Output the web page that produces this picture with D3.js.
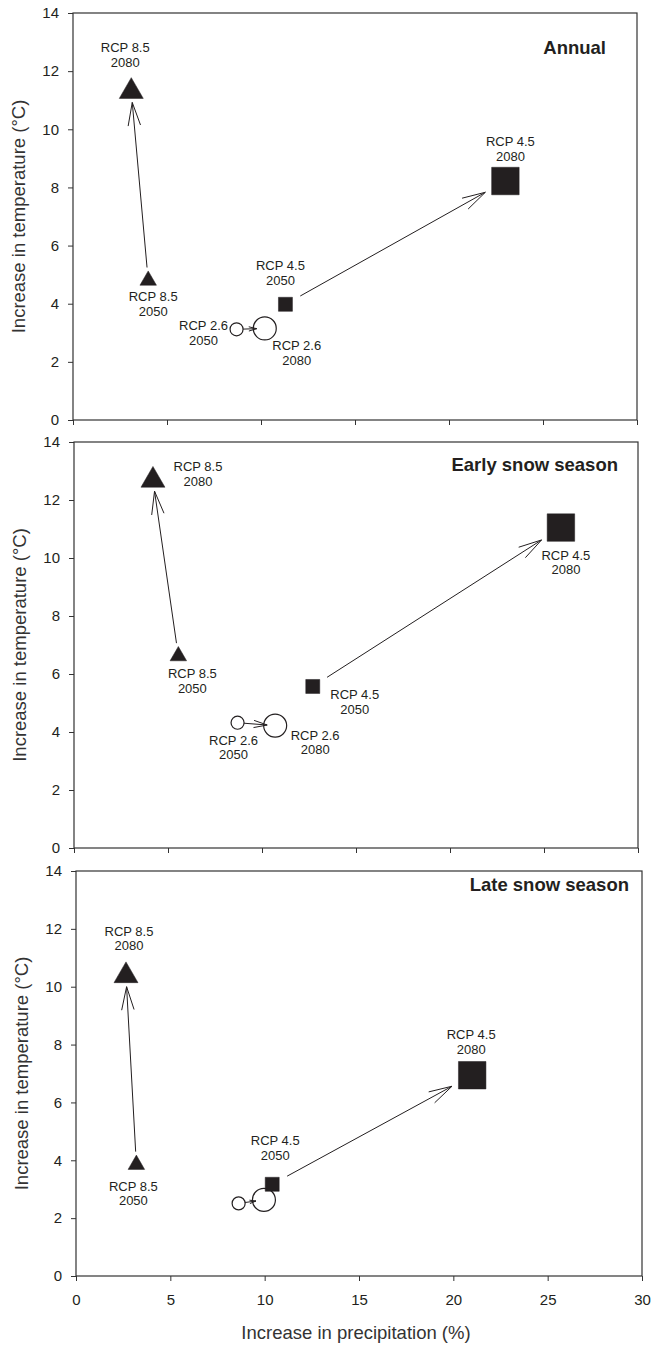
<!DOCTYPE html>
<html>
<head>
<meta charset="utf-8">
<script src="https://cdn.jsdelivr.net/npm/d3@7"></script>
<style>
body { margin: 0; background: #fff; }
svg { display: block; font-family: "Liberation Sans", Arial, sans-serif; }
</style>
</head>
<body>
<svg id="chart"></svg>
<script>
const panelTitles = ['Annual', 'Early snow season', 'Late snow season'];
const scenarios = ['RCP 2.6', 'RCP 4.5', 'RCP 8.5'];
const years = ['2050', '2080'];
// order: 2.6/2050, 2.6/2080, 4.5/2050, 4.5/2080, 8.5/2050, 8.5/2080
const annualPrecip = [8.7, 10.2, 11.3, 23.0, 4.0, 3.1];
const annualTemp = [3.12, 3.15, 3.98, 8.22, 4.8, 11.3];
const earlyPrecip = [8.7, 10.7, 12.7, 25.9, 5.55, 4.2];
const earlyTemp = [4.32, 4.22, 5.57, 11.05, 6.62, 12.68];
const latePrecip = [8.62, 9.96, 10.4, 21.0, 3.2, 2.65];
const lateTemp = [2.51, 2.63, 3.17, 6.94, 3.85, 10.38];
const xTicks = [0, 5, 10, 15, 20, 25, 30];
const yTicks = [0, 2, 4, 6, 8, 10, 12, 14];

const precip = [annualPrecip, earlyPrecip, latePrecip];
const temp = [annualTemp, earlyTemp, lateTemp];

// layout of the three stacked panels
const W = 651, H = 1347;
const frames = [
    { left: 73, right: 637, top: 13, bottom: 420, title: [31, 41] },
    { left: 74, right: 638, top: 442, bottom: 848, title: [20, 29] },
    { left: 76, right: 642, top: 871, bottom: 1276, title: [13, 20] }
];
// label offset from symbol centre: [dx, dy of first line], null = no label
const labelPos = [
    [[-33, 1], [32, 22], [-5, -34], [5, -35], [5, 21], [-6, -39]],
    [[-4, 22], [40, 14], [42, 13], [5, 32], [14, 22], [45, -9]],
    [null, null, [3, -39], [-1, -36], [-3, 26], [3, -40]]
];
const ink = '#231f20';
const shapes = { 'RCP 2.6': d3.symbolCircle, 'RCP 4.5': d3.symbolSquare, 'RCP 8.5': d3.symbolTriangle };
const sizes = {
    'RCP 2.6': [133, 415],
    'RCP 4.5': [196, 756],
    'RCP 8.5': [118, 249]
};
const gaps = { 'RCP 2.6': [6.5, 8], 'RCP 4.5': [17, 23], 'RCP 8.5': [13, 11] };

const svg = d3.select('#chart').attr('width', W).attr('height', H);

frames.forEach((f, pi) => {
    const x = d3.scaleLinear().domain([0, 30]).range([f.left, f.right]);
    const y = d3.scaleLinear().domain([0, 14]).range([f.bottom, f.top]);
    const g = svg.append('g');

    const pts = [];
    scenarios.forEach((s, si) => {
        years.forEach((yr, yi) => {
            const i = si * 2 + yi;
            pts.push({ s, yr, yi, i, px: x(precip[pi][i]), py: y(temp[pi][i]) });
        });
    });

    // axes
    const yAxis = d3.axisLeft(y).tickValues(yTicks).tickSize(5).tickSizeOuter(0).tickPadding(9);
    const xAxis = d3.axisBottom(x).tickValues(xTicks).tickSize(5).tickSizeOuter(0).tickPadding(13);
    if (pi < 2) xAxis.tickFormat('');
    const ga = g.append('g').attr('transform', `translate(${f.left},0)`).call(yAxis);
    const gb = g.append('g').attr('transform', `translate(0,${f.bottom})`).call(xAxis);
    [ga, gb].forEach(a => {
        a.select('.domain').remove();
        a.selectAll('line').attr('stroke', '#333');
        a.selectAll('text').attr('fill', ink).style('font-size', '15px');
    });
    g.append('rect')
        .attr('x', f.left).attr('y', f.top)
        .attr('width', f.right - f.left).attr('height', f.bottom - f.top)
        .attr('fill', 'none').attr('stroke', '#333').attr('stroke-width', 1.2);

    g.append('text')
        .attr('transform', `translate(${f.left - 48},${(f.top + f.bottom) / 2}) rotate(-90)`)
        .attr('text-anchor', 'middle')
        .attr('fill', '#333')
        .style('font-size', '18.5px')
        .text('Increase in temperature (°C)');

    g.append('text')
        .attr('x', f.right - f.title[0]).attr('y', f.top + f.title[1])
        .attr('text-anchor', 'end')
        .attr('fill', ink)
        .style('font-size', '18.5px').style('font-weight', 'bold')
        .text(panelTitles[pi]);

    // symbols
    g.selectAll('.sym').data(pts).join('path')
        .attr('class', 'sym')
        .attr('transform', d => `translate(${d.px},${d.py})`)
        .attr('d', d => d3.symbol().type(shapes[d.s]).size(sizes[d.s][d.yi])())
        .attr('fill', d => d.s === 'RCP 2.6' ? '#fff' : ink)
        .attr('stroke', ink)
        .attr('stroke-width', d => d.s === 'RCP 2.6' ? 1.2 : 0.5);

    // arrows 2050 -> 2080
    scenarios.forEach(s => {
        const a = pts.find(p => p.s === s && p.yi === 0);
        const b = pts.find(p => p.s === s && p.yi === 1);
        const dx = b.px - a.px, dy = b.py - a.py, len = Math.hypot(dx, dy);
        const ux = dx / len, uy = dy / len;
        const sx = a.px + ux * gaps[s][0], sy = a.py + uy * gaps[s][0];
        const tx = b.px - ux * gaps[s][1], ty = b.py - uy * gaps[s][1];
        const L = Math.hypot(tx - sx, ty - sy);
        const head = Math.min(24, L * 0.6), ang = 15 * Math.PI / 180;
        const arm = (sgn) => {
            const c = Math.cos(sgn * ang), sn = Math.sin(sgn * ang);
            const bx = -ux, by = -uy;
            return [tx + (bx * c - by * sn) * head, ty + (bx * sn + by * c) * head];
        };
        const p = d3.path();
        p.moveTo(sx, sy); p.lineTo(tx, ty);
        const a1 = arm(1), a2 = arm(-1);
        p.moveTo(a1[0], a1[1]); p.lineTo(tx, ty); p.lineTo(a2[0], a2[1]);
        g.append('path').attr('d', p.toString())
            .attr('fill', 'none').attr('stroke', ink).attr('stroke-width', 1);
    });

    // labels
    const lab = g.selectAll('.lab').data(pts.filter(d => labelPos[pi][d.i])).join('text')
        .attr('class', 'lab')
        .attr('text-anchor', 'middle')
        .attr('fill', ink)
        .style('font-size', '13px');
    lab.append('tspan')
        .attr('x', d => d.px + labelPos[pi][d.i][0])
        .attr('y', d => d.py + labelPos[pi][d.i][1])
        .text(d => d.s);
    lab.append('tspan')
        .attr('x', d => d.px + labelPos[pi][d.i][0])
        .attr('y', d => d.py + labelPos[pi][d.i][1] + 14.5)
        .text(d => d.yr);

    if (pi === 2) {
        g.append('text')
            .attr('x', (f.left + f.right) / 2 - 3).attr('y', f.bottom + 63)
            .attr('text-anchor', 'middle')
            .attr('fill', '#333')
            .style('font-size', '18.5px')
            .text('Increase in precipitation (%)');
    }
});
</script>
</body>
</html>
